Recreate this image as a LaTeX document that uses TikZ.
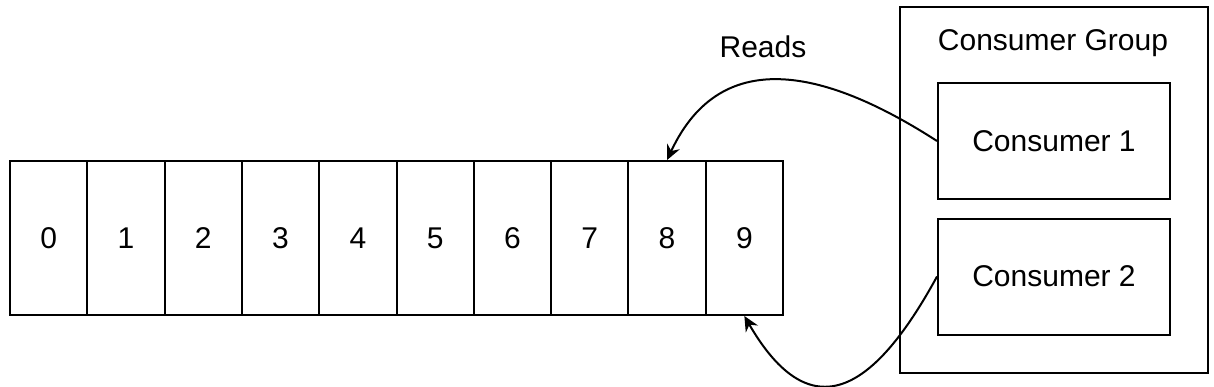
\documentclass[tikz,border=0pt]{standalone}
\usepackage{fontspec}
\setmainfont{Liberation Sans}
\usetikzlibrary{arrows.meta}

\begin{document}
\begin{tikzpicture}[x=0.5pt, y=-0.5pt]
        \tikzset{cellbox/.style={draw, line width=1pt, minimum width=38.65pt, minimum height=77pt, inner sep=0pt, font=\fontsize{15}{18}\selectfont}}
        \tikzset{consbox/.style={draw, line width=1pt, minimum width=116pt, minimum height=58pt, inner sep=0pt, font=\fontsize{15}{18}\selectfont}}
        \tikzset{readarrow/.style={line width=1pt, -{Stealth[length=7.5pt, width=7pt, inset=2.5pt]}}}

        \useasboundingbox (0,0) rectangle (1214,386);

        \foreach \i in {0,...,9} {
            \node[cellbox] (c\i) at ({48.65+77.3*\i}, 238) {\i};
        }

        \node[draw, line width=1pt, minimum width=154pt, minimum height=183pt, inner sep=0pt] (grp) at (1054, 190) {};
        \node[font=\fontsize{15}{18}\selectfont] (grptitle) at (1053, 43) {Consumer Group};
        \node[consbox] (con1) at (1054, 141) {Consumer 1};
        \node[consbox] (con2) at (1054, 276.5) {Consumer 2};

        \node[font=\fontsize{15}{18}\selectfont] (reads) at (763, 47) {Reads};

        \draw[readarrow] (con1.west) .. controls (830, 72) and (722, 42) .. (c8.north);
        \draw[readarrow] (con2.west) .. controls (874, 392) and (811, 431) .. (c9.south);

    \end{tikzpicture}
\end{document}
